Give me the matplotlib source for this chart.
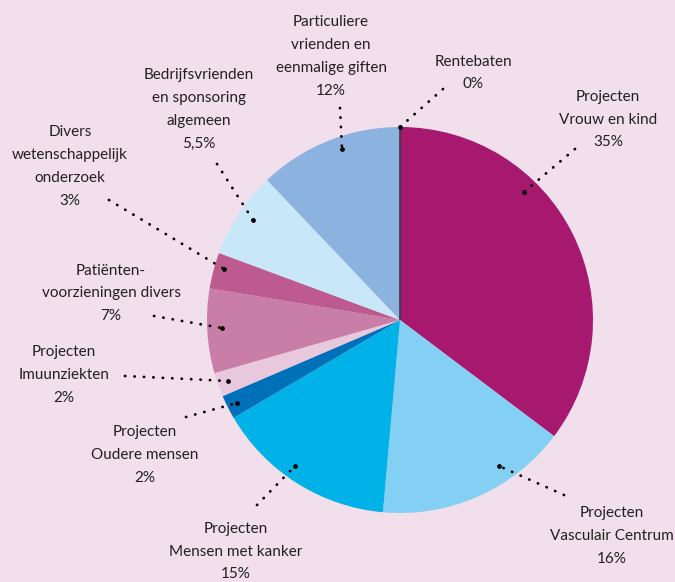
import matplotlib.pyplot as plt

W, H = 675, 582

# slices, clockwise from the top
categories = ["Projecten\nVrouw en kind", "Projecten\nVasculair Centrum", "Projecten\nMensen met kanker",
              "Projecten\nOudere mensen", "Projecten\nImuunziekten", "Patiënten-\nvoorzieningen divers",
              "Divers\nwetenschappelijk\nonderzoek", "Bedrijfsvrienden\nen sponsoring\nalgemeen",
              "Particuliere\nvrienden en\neenmalige giften", "Rentebaten"]
values = [35, 16, 15, 2, 2, 7, 3, 7.2, 12, 0]
pct_labels = ["35%", "16%", "15%", "2%", "2%", "7%", "3%", "5,5%", "12%", "0%"]
colors = ["#a6196f", "#84d0f4", "#00b2e8", "#0070b8", "#e8c8dc", "#c87ea7",
          "#bd5b90", "#c8e8f9", "#8cb2e0", "#3a3a3a"]

# label block centres (pixels, from top-left)
label_pos = [(608, 119.5), (612, 536), (236, 551.5), (145, 455), (64, 375),
             (111, 293.5), (70, 166.5), (199, 109.5), (331, 56.5), (473, 73)]
# dotted leader lines: label end -> slice end
leaders = [((575, 149), (524, 192)), ((564, 495), (499, 466)), ((257, 505), (295, 466)),
           ((186, 417), (237, 403)), ((125, 376), (228, 381)), ((154, 316), (222, 328)),
           ((109, 200), (224, 269)), ((217, 164), (253, 220)), ((340, 108), (342, 149)),
           ((443, 89), (400, 127))]

bg = "#f1e0eb"
plt.rcParams['font.family'] = ['Lato', 'DejaVu Sans']

fig = plt.figure(figsize=(W / 100, H / 100), dpi=100, facecolor=bg)
ax = fig.add_axes([0, 0, 1, 1])
ax.set_facecolor(bg)

wedges, _ = ax.pie(values, colors=colors, startangle=90, counterclock=False,
                   center=(400, H - 320), radius=193, frame=True,
                   wedgeprops=dict(linewidth=0))
# Rentebaten (0%) shows only as a thin dark edge
wedges[-1].set_edgecolor("#3a3a3a")
wedges[-1].set_linewidth(1.2)
ax.set_xlim(0, W)
ax.set_ylim(0, H)
ax.set_aspect('equal')
ax.axis('off')

for cat, pct, (x, y) in zip(categories, pct_labels, label_pos):
    ax.text(x, H - y, cat + "\n" + pct, ha='center', va='center', fontsize=11,
            color="#231f20", linespacing=1.8)

for (x0, y0), (x1, y1) in leaders:
    ax.plot([x0, x1], [H - y0, H - y1], color="black", linewidth=2.0,
            linestyle=(0, (0.1, 3.3)), dash_capstyle='round')
    ax.plot(x1, H - y1, 'o', color="black", markersize=2.4)

fig.savefig("out.png", dpi=100, facecolor=bg)
